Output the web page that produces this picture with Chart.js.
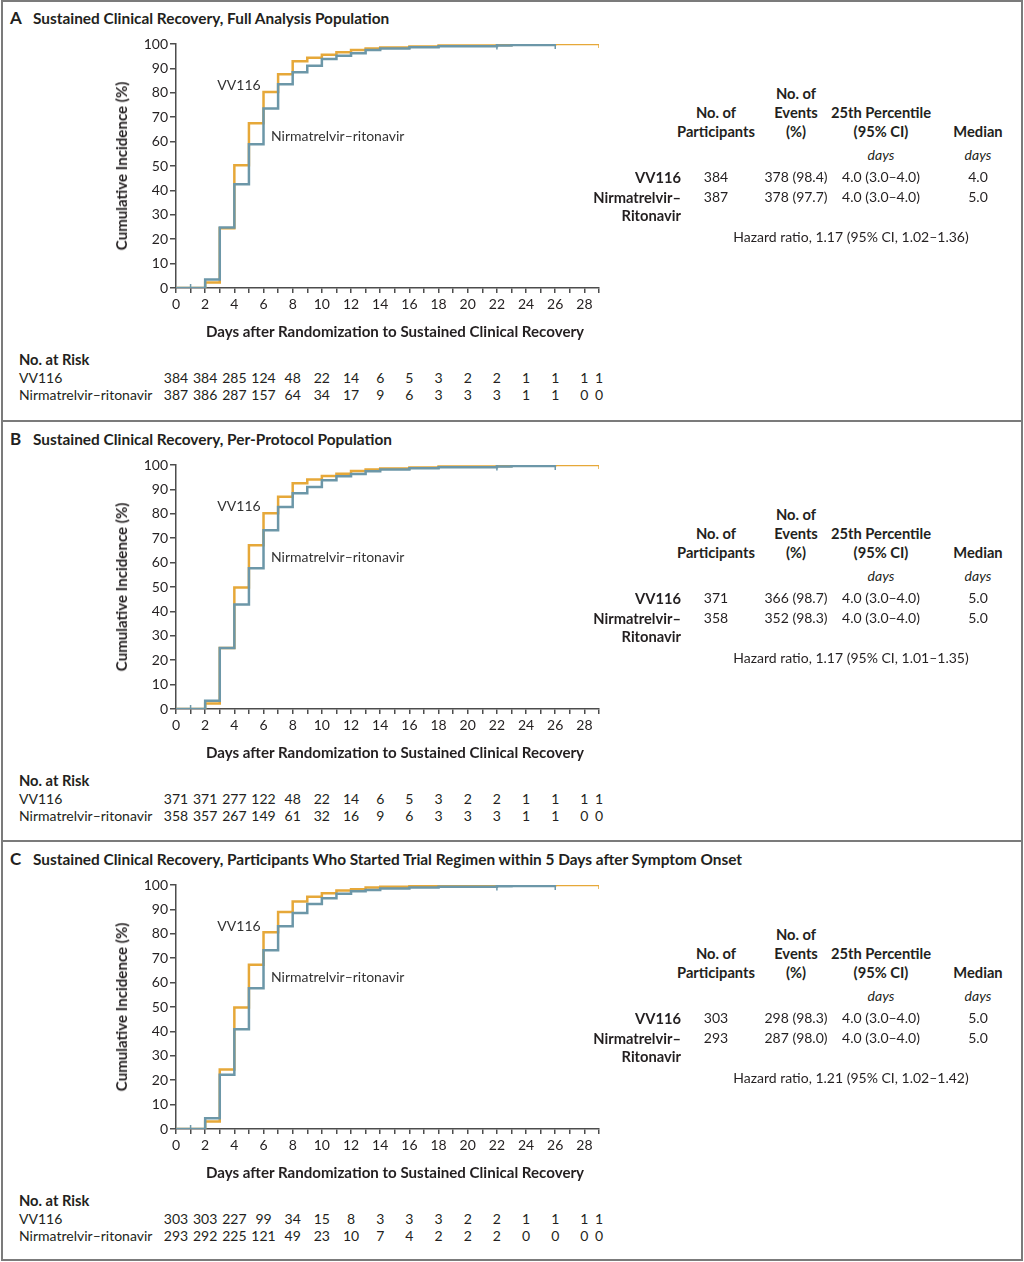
<!DOCTYPE html>
<html>
<head>
<meta charset="utf-8">
<script src="https://cdn.jsdelivr.net/npm/chart.js@4.4.1/dist/chart.umd.min.js"></script>
<style>
  body { margin: 0; background: #fff; font-family: Lato, "Open Sans", sans-serif; color: #231f20; }
  #page { position: relative; width: 1024px; height: 1262px; overflow: hidden; background: #fff; }
  #frame { position: absolute; left: 1px; top: 0; width: 1018px; height: 1257px; border: 2px solid #7b7b7b; }
  .sep { position: absolute; left: 1px; width: 1022px; height: 2px; background: #7b7b7b; }
  .panel { position: absolute; left: 0; width: 1024px; height: 420px; }
  .cw { position: absolute; left: 0; top: 30px; width: 640px; height: 300px; }
  .t { position: absolute; white-space: nowrap; line-height: 18px; }
</style>
</head>
<body>
<div id="page">
  <div id="frame"></div>
  <div class="sep" style="top:420px"></div>
  <div class="sep" style="top:840px"></div>
</div>
<script>
// time grid for the step curves (days)
const stepDays = [0, 2, 3, 4, 5, 6, 7, 8, 9, 10, 11, 12, 13, 14, 16, 18, 22, 23, 26, 29];

// cumulative incidence (%)
const vvA = [0, 2.3, 24.5, 50.3, 67.5, 80.3, 87.6, 92.9, 94.4, 95.6, 96.6, 97.5, 98.2, 98.6, 99.0, 99.4, 99.6, 99.8, 100, 100];
const nrA = [0, 3.5, 24.8, 42.5, 58.9, 73.6, 83.5, 88.4, 91.1, 93.9, 95.2, 96.2, 97.5, 98.2, 98.7, 99.1, 99.4, 99.6, 99.6];
const vvB = [0, 2.3, 25.0, 49.8, 67.1, 80.2, 87.0, 92.5, 94.1, 95.5, 96.4, 97.5, 98.2, 98.6, 99.0, 99.4, 99.6, 99.8, 100, 100];
const nrB = [0, 3.4, 25.0, 42.8, 57.7, 73.3, 82.8, 88.4, 91.0, 93.7, 95.4, 96.3, 97.4, 98.2, 98.7, 99.1, 99.4, 99.6, 99.6];
const vvC = [0, 3.1, 24.4, 49.8, 67.3, 80.6, 88.9, 93.2, 95.2, 96.6, 97.7, 98.3, 99.0, 99.3, 99.5, 99.6, 99.7, 99.8, 100, 100];
const nrC = [0, 4.4, 22.2, 40.9, 57.7, 73.3, 83.1, 88.5, 92.2, 94.6, 96.4, 97.4, 98.0, 98.6, 99.0, 99.3, 99.5, 99.6, 99.6];

// censoring marks [day, %]
const censorNr = [[1, 0], [22, 99.4], [26, 99.6]];
const censorVv = [[29, 100]];

// number at risk
const riskDays = [0, 2, 4, 6, 8, 10, 12, 14, 16, 18, 20, 22, 24, 26, 28, 29];
const riskVvA = [384, 384, 285, 124, 48, 22, 14, 6, 5, 3, 2, 2, 1, 1, 1, 1];
const riskNrA = [387, 386, 287, 157, 64, 34, 17, 9, 6, 3, 3, 3, 1, 1, 0, 0];
const riskVvB = [371, 371, 277, 122, 48, 22, 14, 6, 5, 3, 2, 2, 1, 1, 1, 1];
const riskNrB = [358, 357, 267, 149, 61, 32, 16, 9, 6, 3, 3, 3, 1, 1, 0, 0];
const riskVvC = [303, 303, 227, 99, 34, 15, 8, 3, 3, 3, 2, 2, 1, 1, 1, 1];
const riskNrC = [293, 292, 225, 121, 49, 23, 10, 7, 4, 2, 2, 2, 0, 0, 0, 0];

// summary table: participants, events, 25th percentile, median
const statsVvA = ['384', '378 (98.4)', '4.0 (3.0\u20134.0)', '4.0'];
const statsNrA = ['387', '378 (97.7)', '4.0 (3.0\u20134.0)', '5.0'];
const statsVvB = ['371', '366 (98.7)', '4.0 (3.0\u20134.0)', '5.0'];
const statsNrB = ['358', '352 (98.3)', '4.0 (3.0\u20134.0)', '5.0'];
const statsVvC = ['303', '298 (98.3)', '4.0 (3.0\u20134.0)', '5.0'];
const statsNrC = ['293', '287 (98.0)', '4.0 (3.0\u20134.0)', '5.0'];
const hazardTexts = [
  'Hazard ratio, 1.17 (95% CI, 1.02\u20131.36)',
  'Hazard ratio, 1.17 (95% CI, 1.01\u20131.35)',
  'Hazard ratio, 1.21 (95% CI, 1.02\u20131.42)'
];
const panelTitles = [
  'Sustained Clinical Recovery, Full Analysis Population',
  'Sustained Clinical Recovery, Per-Protocol Population',
  'Sustained Clinical Recovery, Participants Who Started Trial Regimen within 5 Days after Symptom Onset'
];

const ORANGE = '#e6a839';
const BLUE = '#6c97a8';
const AXIS = '#4d4d4d';
const TXT = '#231f20';

function put(parent, text, x, y, align, style) {
  const el = document.createElement('div');
  el.className = 't';
  el.textContent = text;
  el.style.top = (y - 9) + 'px';
  el.style.left = x + 'px';
  if (align === 'center') el.style.transform = 'translateX(-50%)';
  if (align === 'right') el.style.transform = 'translateX(-100%)';
  Object.assign(el.style, style || {});
  parent.appendChild(el);
  return el;
}

const bold = { fontWeight: '700', fontSize: '14.7px' };
const axisBold = { fontWeight: '700', fontSize: '15.1px' };
const reg = { fontSize: '14px' };

function buildPanel(idx, top, letter, vv, nr, riskVv, riskNr, statsVv, statsNr) {
  const page = document.getElementById('page');
  const p = document.createElement('div');
  p.className = 'panel';
  p.style.top = top + 'px';
  page.appendChild(p);

  put(p, letter, 10, 18, 'left', { fontWeight: '700', fontSize: '17px' });
  put(p, panelTitles[idx], 33, 18, 'left', { fontWeight: '700', fontSize: '15.4px' });

  const cw = document.createElement('div');
  cw.className = 'cw';
  const cv = document.createElement('canvas');
  cv.width = 640; cv.height = 300;
  cv.style.width = '640px'; cv.style.height = '300px';
  cw.appendChild(cv);
  p.appendChild(cw);

  const pts = (vals) => vals.map((v, i) => ({ x: stepDays[i], y: v }));
  const cens = (arr) => arr.map(c => ({ x: c[0], y: c[1] }));

  const chart = new Chart(cv, {
    type: 'line',
    data: {
      datasets: [
        { data: pts(nr), borderColor: BLUE, borderWidth: 2.5, stepped: true, pointRadius: 0, fill: false, order: 1 },
        { data: pts(vv), borderColor: ORANGE, borderWidth: 2.5, stepped: true, pointRadius: 0, fill: false, order: 2 },
        { data: cens(censorNr), showLine: false, pointStyle: 'line', pointRotation: 90, pointRadius: 4,
          pointBorderWidth: 1.5, pointBorderColor: BLUE, borderColor: BLUE, order: 0 },
        { data: cens(censorVv), showLine: false, pointStyle: 'line', pointRotation: 90, pointRadius: 4,
          pointBorderWidth: 1.5, pointBorderColor: ORANGE, borderColor: ORANGE, order: 0 }
      ]
    },
    options: {
      responsive: false,
      animation: false,
      layout: { padding: { left: 116, right: 41, top: 14, bottom: 12 } },
      plugins: { legend: { display: false }, tooltip: { enabled: false } },
      scales: {
        x: {
          type: 'linear', min: 0, max: 29,
          afterFit: s => { s.height = 30; },
          border: { color: AXIS, width: 1.5 },
          grid: { drawOnChartArea: false, drawTicks: true, tickLength: 5, color: AXIS, lineWidth: 1.5 },
          ticks: {
            stepSize: 1, autoSkip: false, maxRotation: 0, padding: 3, color: TXT,
            font: { family: 'Lato', size: 14 },
            callback: v => (v % 2 === 0 && v < 29) ? String(v) : ''
          }
        },
        y: {
          min: 0, max: 100,
          afterFit: s => { s.width = 60; },
          border: { color: AXIS, width: 1.5 },
          grid: { drawOnChartArea: false, drawTicks: true, tickLength: 6, color: AXIS, lineWidth: 1.5 },
          ticks: { stepSize: 10, padding: 2, color: TXT, font: { family: 'Lato', size: 14 } }
        }
      }
    }
  });

  // axis titles and curve labels
  const yt = put(p, 'Cumulative Incidence (%)', 121, 166, 'left', axisBold);
  yt.style.transform = 'translate(-50%, 0) rotate(-90deg)';
  put(p, 'Days after Randomization to Sustained Clinical Recovery', 395, 331, 'center', axisBold);
  put(p, 'VV116', 239, 85, 'center', { fontSize: '14px', color: '#333' });
  put(p, 'Nirmatrelvir\u2013ritonavir', 271, 136, 'left', { fontSize: '14px', color: '#333' });

  // number at risk, aligned with the x scale
  put(p, 'No. at Risk', 19, 359, 'left', bold);
  put(p, 'VV116', 19, 378, 'left', reg);
  put(p, 'Nirmatrelvir\u2013ritonavir', 19, 395, 'left', reg);
  const xs = chart.scales.x;
  riskDays.forEach((d, i) => {
    const px = xs.getPixelForValue(d);
    put(p, String(riskVv[i]), px, 378, 'center', reg);
    put(p, String(riskNr[i]), px, 395, 'center', reg);
  });

  // summary table
  const cols = [716, 796, 881, 978];
  put(p, 'No. of', cols[1], 93, 'center', bold);
  put(p, 'No. of', cols[0], 112, 'center', bold);
  put(p, 'Events', cols[1], 112, 'center', bold);
  put(p, '25th Percentile', cols[2], 112, 'center', bold);
  put(p, 'Participants', cols[0], 131, 'center', bold);
  put(p, '(%)', cols[1], 131, 'center', bold);
  put(p, '(95% CI)', cols[2], 131, 'center', bold);
  put(p, 'Median', cols[3], 131, 'center', bold);
  put(p, 'days', cols[2], 155, 'center', { fontSize: '14px', fontStyle: 'italic' });
  put(p, 'days', cols[3], 155, 'center', { fontSize: '14px', fontStyle: 'italic' });
  put(p, 'VV116', 681, 177, 'right', bold);
  put(p, 'Nirmatrelvir\u2013', 681, 197, 'right', bold);
  put(p, 'Ritonavir', 681, 215, 'right', bold);
  statsVv.forEach((s, i) => put(p, s, cols[i], 177, 'center', reg));
  statsNr.forEach((s, i) => put(p, s, cols[i], 197, 'center', reg));
  put(p, hazardTexts[idx], 851, 237, 'center', reg);
}

buildPanel(0, 0, 'A', vvA, nrA, riskVvA, riskNrA, statsVvA, statsNrA);
buildPanel(1, 421, 'B', vvB, nrB, riskVvB, riskNrB, statsVvB, statsNrB);
buildPanel(2, 841, 'C', vvC, nrC, riskVvC, riskNrC, statsVvC, statsNrC);
</script>
</body>
</html>
